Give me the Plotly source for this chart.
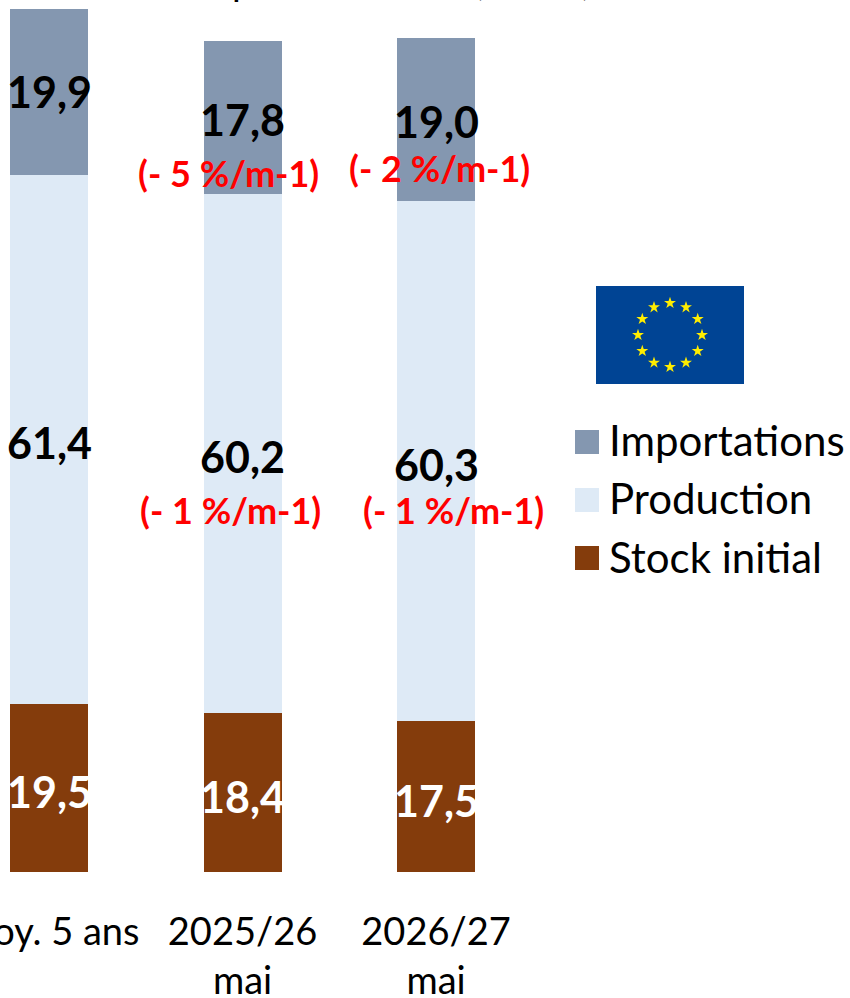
import math
import plotly.graph_objects as go

categories = ["Moy. 5 ans", "2025/26<br>mai", "2026/27<br>mai"]
stock = [19.5, 18.4, 17.5]
production = [61.4, 60.2, 60.3]
imports_bar = [19.2, 17.8, 19.0]      # drawn height
stock_labels = ["19,5", "18,4", "17,5"]
production_labels = ["61,4", "60,2", "60,3"]
imports_labels = ["19,9", "17,8", "19,0"]
production_changes = [None, "(- 1 %/m-1)", "(- 1 %/m-1)"]
imports_changes = [None, "(- 5 %/m-1)", "(- 2 %/m-1)"]
legend_names = ["Importations", "Production", "Stock initial"]
title_text = "Disponibilités UE (en Mt)"

BROWN, LIGHT, SLATE = "#843C0C", "#DEEAF6", "#8497B0"
FONT = "Lato"
W, H, BASE = 850, 998, 872
PAD_L, PAD_T = 100, 60   # figure extends past the window so that text is cut by the page edge, as in the reference
PX = 8.62
STEP = 193.5

fig = go.Figure()
for name, vals, col in [("Stock initial", stock, BROWN), ("Production", production, LIGHT), ("Importations", imports_bar, SLATE)]:
    fig.add_trace(go.Bar(x=list(range(3)), y=vals, name=name, marker=dict(color=col, line_width=0), width=78 / STEP, hoverinfo="skip"))

# EU flag stars on the pixel overlay axes
cx, cy, r = 670, 335, 32
sx = [cx + r * math.sin(i * math.pi / 6) for i in range(12)]
sy = [cy - r * math.cos(i * math.pi / 6) for i in range(12)]
fig.add_trace(go.Scatter(x=sx, y=sy, mode="markers", xaxis="x2", yaxis="y2", hoverinfo="skip",
                         marker=dict(symbol="star", size=9, color="#FFED00", line_width=0)))

ann = []
def label(x, y, text, color="black", size=43, dx=0, dy=0):
    ann.append(dict(x=x, y=y, xref="x", yref="y", text=text, showarrow=False, xshift=dx, yshift=dy,
                    font=dict(family=FONT, size=size, color=color, weight="bold"), xanchor="center", yanchor="middle"))

for i in range(3):
    s, p, m = stock[i], production[i], imports_bar[i]
    label(i, s / 2, stock_labels[i], color="white", dy=-4)
    label(i, s + p / 2, production_labels[i], dy=-3)
    label(i, s + p + m / 2, imports_labels[i], dy=0 if i == 0 else -2)

label(1, stock[1] + production[1] / 2, production_changes[1], color="#FF0000", size=36, dx=-12, dy=-56)
label(2, stock[2] + production[2] / 2, production_changes[2], color="#FF0000", size=36, dx=17, dy=-49)
label(1, stock[1] + production[1] + imports_bar[1] / 2, imports_changes[1], color="#FF0000", size=36, dx=-14, dy=-55)
label(2, stock[2] + production[2] + imports_bar[2] / 2, imports_changes[2], color="#FF0000", size=36, dx=3, dy=-49)

shapes = [dict(type="rect", xref="x2", yref="y2", x0=596, x1=744, y0=286, y1=384, fillcolor="#004494", line_width=0, layer="below")]
for name, col, yc, ty in zip(legend_names, [SLATE, LIGHT, BROWN], [442, 500, 558], [440, 498, 557]):
    shapes.append(dict(type="rect", xref="x2", yref="y2", x0=575, x1=599, y0=yc - 12, y1=yc + 12, fillcolor=col, line_width=0))
    ann.append(dict(x=607, y=ty, xref="x2", yref="y2", text=name, showarrow=False, xanchor="left", yanchor="middle",
                    font=dict(family=FONT, size=42, color="black")))

ann.append(dict(x=176 / W, y=1 + 20 / BASE, xref="paper", yref="paper", text=title_text, showarrow=False,
                xanchor="left", yanchor="middle", font=dict(family=FONT, size=38, color="black")))

fig.update_layout(
    width=W + PAD_L, height=H + PAD_T, margin=dict(l=PAD_L, r=0, t=PAD_T, b=H - BASE, pad=0),
    paper_bgcolor="white", plot_bgcolor="white", barmode="stack", showlegend=False,
    font=dict(family=FONT, color="black"), annotations=ann, shapes=shapes,
    xaxis=dict(range=[-49 / STEP, (W - 49) / STEP], tickmode="array", tickvals=list(range(3)), ticktext=categories,
               tickfont=dict(family=FONT, size=38, color="black"), showgrid=False, zeroline=False, showline=False,
               ticks="outside", ticklen=26, tickcolor="rgba(0,0,0,0)", fixedrange=True, automargin=False, tickangle=0),
    yaxis=dict(range=[0, BASE / PX], visible=False, fixedrange=True),
    xaxis2=dict(range=[0, W], overlaying="x", visible=False, fixedrange=True),
    yaxis2=dict(range=[BASE, 0], overlaying="y", visible=False, fixedrange=True),
)
post = (f"document.documentElement.style.overflow='hidden';document.body.style.overflow='hidden';"
        f"document.body.style.margin='-{PAD_T}px 0 0 -{PAD_L}px';")
fig.write_html("out.html", post_script=post)
